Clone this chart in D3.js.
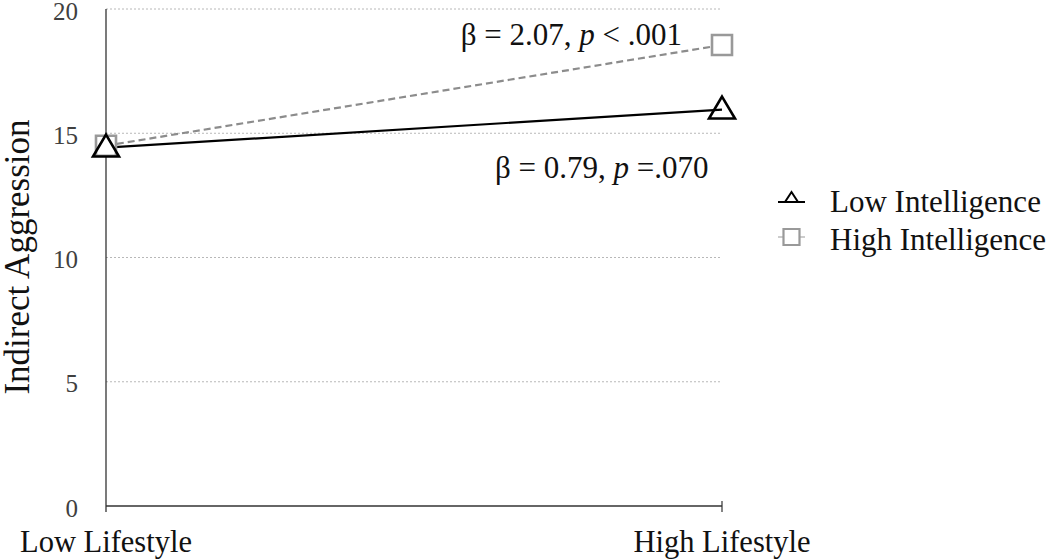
<!DOCTYPE html>
<html>
<head>
<meta charset="utf-8">
<script src="https://cdn.jsdelivr.net/npm/d3@7"></script>
<style>
  html, body { margin: 0; padding: 0; background: #fff; }
  svg text { font-family: "Liberation Serif", "Times New Roman", Times, "DejaVu Serif", serif; }
</style>
</head>
<body>
<svg id="chart" width="1050" height="559"></svg>
<script>
const categories = ["Low Lifestyle", "High Lifestyle"];
const lowIntelligence = [14.42, 15.95];
const highIntelligence = [14.5, 18.55];
const yTicks = [0, 5, 10, 15, 20];
const seriesNames = ["Low Intelligence", "High Intelligence"];
const annotations = [
  { beta: "2.07", p: "< .001" },
  { beta: "0.79", p: "=.070" }
];

const FONT = "'Liberation Serif', 'Times New Roman', Times, 'DejaVu Serif', serif";
const svg = d3.select("#chart");
const x = d3.scalePoint().domain(categories).range([106, 722]);
const y = d3.scaleLinear().domain([0, 20]).range([506, 9]);

// gridlines
svg.append("g").selectAll("line").data(yTicks.filter(d => d > 0)).join("line")
  .attr("x1", x(categories[0])).attr("x2", x(categories[1]))
  .attr("y1", d => y(d)).attr("y2", d => y(d))
  .attr("stroke", "#b8b8b8").attr("stroke-width", 1).attr("stroke-dasharray", "2,2");

// y axis tick labels
const yAxis = d3.axisLeft(y).tickValues(yTicks).tickSize(0).tickPadding(28).tickFormat(d3.format("d"));
const yg = svg.append("g").attr("transform", `translate(${x(categories[0])},0)`).call(yAxis);
yg.attr("font-family", FONT);
yg.select(".domain").remove();
yg.selectAll("text").attr("font-size", 25).attr("fill", "#404040").attr("dy", "0.4em")
  .style("font-family", FONT);

// y axis line
svg.append("line").attr("x1", x(categories[0])).attr("x2", x(categories[0]))
  .attr("y1", y(20)).attr("y2", y(0) + 6).attr("stroke", "#222").attr("stroke-width", 1.2);

// x axis line
svg.append("line").attr("x1", x(categories[0])).attr("x2", x(categories[1]))
  .attr("y1", y(0)).attr("y2", y(0)).attr("stroke", "#333").attr("stroke-width", 1.6);
svg.append("line").attr("x1", x(categories[1])).attr("x2", x(categories[1]))
  .attr("y1", y(0) - 5).attr("y2", y(0) + 6).attr("stroke", "#333").attr("stroke-width", 1.2);

// x category labels
svg.append("g").selectAll("text").data(categories).join("text")
  .attr("x", d => x(d)).attr("y", 552).attr("text-anchor", "middle")
  .attr("font-size", 30.5).attr("fill", "#111").style("font-family", FONT).text(d => d);

// y title
svg.append("text").attr("transform", "translate(29,257) rotate(-90)")
  .attr("text-anchor", "middle").attr("font-size", 35).attr("fill", "#111")
  .style("font-family", FONT).text("Indirect Aggression");

// lines
const line = d3.line().x((d, i) => x(categories[i])).y(d => y(d));
svg.append("path").datum(highIntelligence).attr("d", line)
  .attr("fill", "none").attr("stroke", "#8c8c8c").attr("stroke-width", 2.2).attr("stroke-dasharray", "7,4");
svg.append("path").datum(lowIntelligence).attr("d", line)
  .attr("fill", "none").attr("stroke", "#000").attr("stroke-width", 2.2);

// markers
function squarePath(cx, cy, s) {
  return `M${cx - s / 2},${cy - s / 2}h${s}v${s}h${-s}Z`;
}
function triPath(cx, cy, w, h) {
  return `M${cx},${cy - h * 0.55}L${cx + w / 2},${cy + h * 0.45}L${cx - w / 2},${cy + h * 0.45}Z`;
}
svg.append("g").selectAll("path").data(highIntelligence).join("path")
  .attr("d", (d, i) => squarePath(x(categories[i]), y(d), 20))
  .attr("fill", "#fff").attr("stroke", "#999").attr("stroke-width", 2.6);
svg.append("g").selectAll("path").data(lowIntelligence).join("path")
  .attr("d", (d, i) => triPath(x(categories[i]), y(d) - 1, 26, 22))
  .attr("fill", "none").attr("stroke", "#000").attr("stroke-width", 2.6).attr("stroke-linejoin", "miter");

// annotations
const a1 = svg.append("text").attr("x", 682).attr("y", 45).attr("text-anchor", "end")
  .attr("font-size", 31).attr("fill", "#111").style("font-family", FONT);
a1.append("tspan").text(`β = ${annotations[0].beta}, `);
a1.append("tspan").attr("font-style", "italic").text("p");
a1.append("tspan").text(` ${annotations[0].p}`);

const a2 = svg.append("text").attr("x", 495).attr("y", 178).attr("text-anchor", "start")
  .attr("font-size", 31).attr("fill", "#111").style("font-family", FONT);
a2.append("tspan").text(`β = ${annotations[1].beta}, `);
a2.append("tspan").attr("font-style", "italic").text("p");
a2.append("tspan").text(` ${annotations[1].p}`);

// legend
const lg = svg.append("g");
lg.append("line").attr("x1", 778).attr("x2", 805).attr("y1", 202).attr("y2", 202)
  .attr("stroke", "#000").attr("stroke-width", 2);
lg.append("path").attr("d", `M791.5,192L798,202L785,202Z`)
  .attr("fill", "#fff").attr("stroke", "#000").attr("stroke-width", 2);
lg.append("line").attr("x1", 778).attr("x2", 805).attr("y1", 237).attr("y2", 237)
  .attr("stroke", "#999").attr("stroke-width", 1);
lg.append("path").attr("d", squarePath(791.5, 237, 16))
  .attr("fill", "#fff").attr("stroke", "#999").attr("stroke-width", 2.2);
lg.selectAll("text").data(seriesNames).join("text")
  .attr("x", 830).attr("y", (d, i) => 212 + i * 37.5)
  .attr("font-size", 31).attr("fill", "#111").style("font-family", FONT).text(d => d);
</script>
</body>
</html>
